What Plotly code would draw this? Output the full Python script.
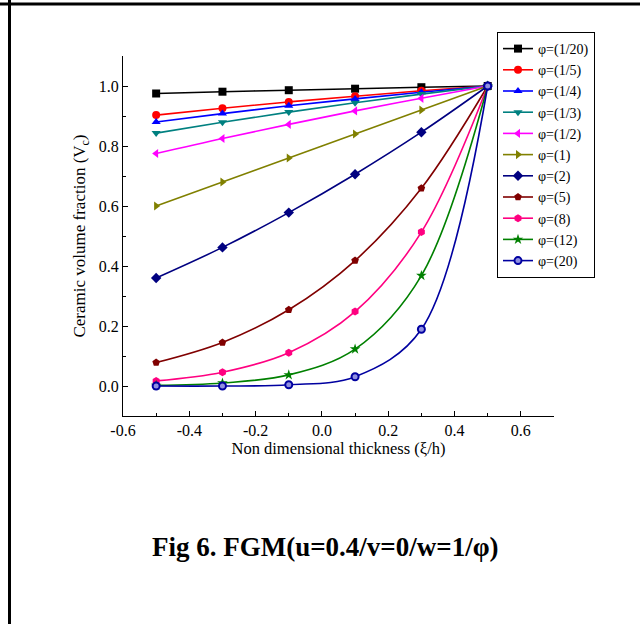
import plotly.graph_objects as go

# Data
thickness = [-0.5, -0.3, -0.1, 0.1, 0.3, 0.5]
labels = ["φ=(1/20)", "φ=(1/5)", "φ=(1/4)", "φ=(1/3)", "φ=(1/2)", "φ=(1)",
          "φ=(2)", "φ=(5)", "φ=(8)", "φ=(12)", "φ=(20)"]
phi_1_20 = [0.975, 0.981, 0.986, 0.991, 0.996, 1.0]
phi_1_5 = [0.903, 0.926, 0.947, 0.966, 0.984, 1.0]
phi_1_4 = [0.880, 0.908, 0.934, 0.957, 0.979, 1.0]
phi_1_3 = [0.843, 0.879, 0.913, 0.944, 0.973, 1.0]
phi_1_2 = [0.775, 0.825, 0.872, 0.917, 0.959, 1.0]
phi_1 = [0.600, 0.680, 0.760, 0.840, 0.920, 1.0]
phi_2 = [0.360, 0.462, 0.578, 0.706, 0.846, 1.0]
phi_5 = [0.078, 0.145, 0.254, 0.418, 0.659, 1.0]
phi_8 = [0.017, 0.046, 0.111, 0.248, 0.513, 1.0]
phi_12 = [0.002, 0.010, 0.037, 0.123, 0.368, 1.0]
phi_20 = [0.000, 0.000, 0.004, 0.031, 0.189, 1.0]
series = [phi_1_20, phi_1_5, phi_1_4, phi_1_3, phi_1_2, phi_1,
          phi_2, phi_5, phi_8, phi_12, phi_20]

colors = ["#000000", "#FF0000", "#0000FF", "#008080", "#FF00FF", "#808000",
          "#000080", "#800000", "#FF0080", "#008000", "#0000A0"]
symbols = ["square", "circle", "triangle-up", "triangle-down", "triangle-left",
           "triangle-right", "diamond", "pentagon", "hexagon", "star", "circle"]

fig = go.Figure()
for i, (lab, ys) in enumerate(zip(labels, series)):
    marker = dict(symbol=symbols[i], size=8, color=colors[i])
    if i == len(labels) - 1:
        marker = dict(symbol="circle", size=7, color="#9090e0",
                      line=dict(color=colors[i], width=2))
    fig.add_trace(go.Scatter(
        x=thickness, y=ys, name=lab, mode="lines+markers",
        line=dict(color=colors[i], width=1.6, shape="spline", smoothing=1.0),
        marker=marker,
    ))

L, R, T, B = 123, 86, 56, 208
W, H = 640, 624
pw = W - L - R
ph = H - T - B

def px_to_paper_x(px):
    return (px - L) / pw

def px_to_paper_y(py):
    return (H - B - py) / ph

fig.update_layout(
    width=W, height=H,
    margin=dict(l=L, r=R, t=T, b=B, pad=0),
    paper_bgcolor="white", plot_bgcolor="white",
    font=dict(family="Liberation Serif, Times New Roman, serif", size=16, color="black"),
    showlegend=True,
    legend=dict(
        x=px_to_paper_x(497), y=px_to_paper_y(32), xanchor="left", yanchor="top",
        bordercolor="black", borderwidth=1, bgcolor="white",
        font=dict(family="Liberation Serif, serif", size=14, color="black"),
        itemwidth=30, tracegroupgap=0,
    ),
    xaxis=dict(
        range=[-0.6, 0.7], tickvals=[-0.6, -0.4, -0.2, 0.0, 0.2, 0.4, 0.6],
        ticktext=["-0.6", "-0.4", "-0.2", "0.0", "0.2", "0.4", "0.6"],
        showgrid=False, zeroline=False, showline=True, linecolor="black", linewidth=1,
        ticks="inside", ticklen=5, tickcolor="black", tickwidth=1,
        tickfont=dict(size=16),
        minor=dict(ticks="inside", ticklen=3, dtick=0.1, tick0=-0.6, tickcolor="black", showgrid=False),
        title=dict(text="Non dimensional thickness (ξ/h)", font=dict(size=16.5), standoff=1),
    ),
    yaxis=dict(
        range=[-0.1, 1.1], tickvals=[0.0, 0.2, 0.4, 0.6, 0.8, 1.0],
        ticktext=["0.0", "0.2", "0.4", "0.6", "0.8", "1.0"],
        showgrid=False, zeroline=False, showline=True, linecolor="black", linewidth=1,
        ticks="inside", ticklen=5, tickcolor="black", tickwidth=1,
        tickfont=dict(size=16),
        minor=dict(ticks="inside", ticklen=3, dtick=0.1, tick0=-0.1, tickcolor="black", showgrid=False),
        title=dict(text="Ceramic volume fraction (V<sub>c</sub>)", font=dict(size=17), standoff=8),
    ),
)

fig.add_annotation(
    text="<b>Fig 6. FGM(u=0.4/v=0/w=1/φ)</b>", xref="paper", yref="paper",
    x=px_to_paper_x(325), y=px_to_paper_y(547), showarrow=False,
    font=dict(family="Liberation Serif, serif", size=27, color="black"),
    xanchor="center", yanchor="middle",
)

# Page frame lines
fig.add_shape(type="line", xref="paper", yref="paper",
              x0=px_to_paper_x(0), x1=px_to_paper_x(640),
              y0=px_to_paper_y(4), y1=px_to_paper_y(4),
              line=dict(color="black", width=3))
fig.add_shape(type="line", xref="paper", yref="paper",
              x0=px_to_paper_x(9.5), x1=px_to_paper_x(9.5),
              y0=px_to_paper_y(0), y1=px_to_paper_y(624),
              line=dict(color="black", width=3))

fig.write_html("out.html")
